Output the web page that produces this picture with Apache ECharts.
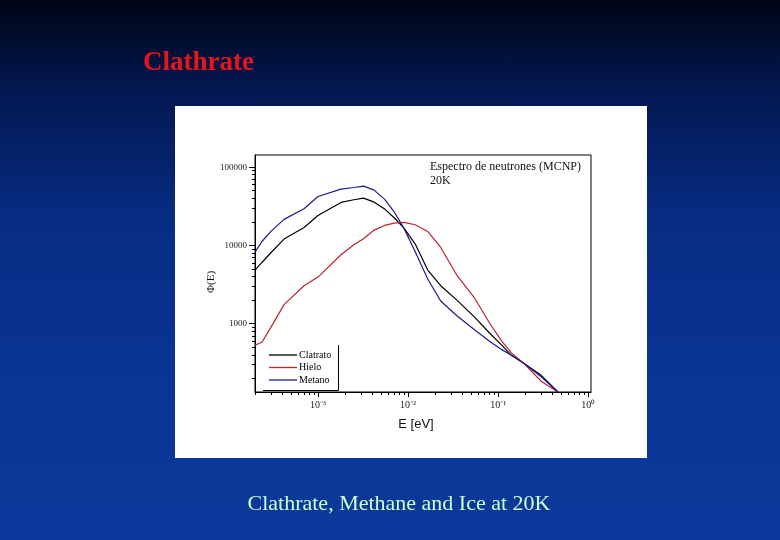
<!DOCTYPE html>
<html><head><meta charset="utf-8">
<script src="https://cdn.jsdelivr.net/npm/echarts@6/dist/echarts.min.js"></script>
<style>
html,body{margin:0;padding:0;}
body{width:780px;height:540px;overflow:hidden;position:relative;
background:linear-gradient(180deg,#000514 0%,#031750 16%,#072c82 40%,#0a3594 70%,#0b3a9c 100%);}
#panel{position:absolute;left:175px;top:106px;width:472px;height:352px;background:#fff;}
#chart{position:absolute;left:0;top:0;width:780px;height:540px;}
</style></head><body>
<div id="panel"></div><div id="chart"></div>
<script>
// Energy grid [eV] and neutron flux for each moderator
const energy   = [2e-4, 2.4e-4, 3e-4, 4.2e-4, 7e-4, 1e-3, 1.8e-3, 2.5e-3, 3.2e-3, 4.2e-3, 5.5e-3, 7e-3, 9e-3, 1.2e-2, 1.65e-2, 2.3e-2, 3.5e-2, 5.5e-2, 8e-2, 0.11, 0.14, 0.19, 0.3, 0.46];
const clatrato = [4840, 6100, 8060, 12050, 16980, 24150, 35400, 38300, 40200, 35700, 29100, 22550, 16640, 10400, 4840, 3055, 1985, 1205, 760, 529, 394, 315, 219, 134];
const hielo    = [529, 583, 897, 1750, 3055, 3940, 7600, 10200, 12170, 15700, 18000, 19270, 19670, 18370, 15100, 9420, 4100, 2100, 1020, 595, 423, 315, 184, 134];
const metano   = [8220, 11300, 15100, 21500, 29400, 42200, 52400, 55000, 57200, 50900, 38700, 26900, 16500, 8300, 3720, 1946, 1253, 830, 595, 466, 394, 315, 210, 134];
const seriesNames = ['Clatrato', 'Hielo', 'Metano'];
const seriesColors = ['#000000', '#b8262b', '#1c1c8a'];
const xTickValues = [1e-3, 1e-2, 1e-1, 1];
const xTickLabels = ['10\u207B\u00B3', '10\u207B\u00B2', '10\u207B\u00B9', '10\u2070'];
const yTickValues = [1000, 10000, 100000];
const yTickLabels = ['1000', '10000', '100000'];
const xMin = 2e-4, xMax = 1.07, yMin = 134, yMax = 143000;

function minorTicks(lo, hi) {
  const out = [];
  for (let d = Math.floor(Math.log10(lo)); d <= Math.ceil(Math.log10(hi)); d++) {
    for (let m = 2; m <= 9; m++) {
      const v = m * Math.pow(10, d);
      if (v >= lo && v <= hi) out.push(v);
    }
  }
  return out;
}
function lookup(values, labels, v) {
  for (let i = 0; i < values.length; i++) {
    if (Math.abs(Math.log10(v) - Math.log10(values[i])) < 1e-6) return labels[i];
  }
  return '';
}

const chart = echarts.init(document.getElementById('chart'), null, {renderer: 'canvas'});
const serif = 'Liberation Serif';
const lineSt = {color: '#000', width: 1};
const seriesData = [clatrato, hielo, metano];

chart.setOption({
  backgroundColor: 'transparent',
  animation: false,
  grid: {left: 255, right: 189, top: 155, bottom: 148, show: true, borderColor: '#000', borderWidth: 1, backgroundColor: 'transparent'},
  xAxis: [
    {type: 'log', logBase: 10, min: xMin, max: xMax,
     axisLine: {show: true, lineStyle: lineSt},
     axisTick: {show: true, customValues: xTickValues, length: 5, lineStyle: lineSt},
     axisLabel: {customValues: xTickValues, formatter: v => lookup(xTickValues, xTickLabels, v),
                 margin: 8, fontFamily: serif, fontSize: 10, color: '#222'},
     splitLine: {show: false},
     name: 'E [eV]', nameLocation: 'middle', nameGap: 26,
     nameTextStyle: {fontFamily: 'Liberation Sans', fontSize: 13, color: '#111', padding: [0, 14, 0, 0]}},
    {type: 'log', logBase: 10, min: xMin, max: xMax, position: 'bottom',
     axisLine: {show: false},
     axisTick: {show: true, customValues: minorTicks(xMin, xMax), length: 3, lineStyle: lineSt},
     axisLabel: {show: false}, splitLine: {show: false}}
  ],
  yAxis: [
    {type: 'log', logBase: 10, min: yMin, max: yMax,
     axisLine: {show: true, lineStyle: lineSt},
     axisTick: {show: true, customValues: yTickValues, length: 6, lineStyle: lineSt},
     axisLabel: {customValues: yTickValues, formatter: v => lookup(yTickValues, yTickLabels, v),
                 margin: 8, fontFamily: serif, fontSize: 9, color: '#222'},
     splitLine: {show: false}},
    {type: 'log', logBase: 10, min: yMin, max: yMax, position: 'left',
     axisLine: {show: false},
     axisTick: {show: true, customValues: minorTicks(yMin, yMax), length: 3, lineStyle: lineSt},
     axisLabel: {show: false}, splitLine: {show: false}}
  ],
  legend: {
    data: seriesNames.map(n => ({name: n, icon: 'rect'})),
    orient: 'vertical', left: 269, top: 349, padding: 0,
    itemWidth: 28, itemHeight: 1.3, itemGap: 0.5,
    textStyle: {fontFamily: serif, fontSize: 10, color: '#000', lineHeight: 12, padding: [0, 0, 0, -3]}
  },
  series: seriesNames.map((name, k) => ({
    name: name, type: 'line', xAxisIndex: 0, yAxisIndex: 0,
    showSymbol: false, symbol: 'none', clip: true, smooth: false,
    color: seriesColors[k],
    lineStyle: {color: seriesColors[k], width: 1.2},
    data: energy.map((e, i) => [e, seriesData[k][i]])
  })),
  graphic: [
    {type: 'text', left: 143, top: 50, style: {text: 'Clathrate', fill: '#e8141c', font: 'bold 27px "Liberation Serif"'}},
    {type: 'text', x: 399, y: 504, style: {text: 'Clathrate, Methane and Ice at 20K', fill: '#ccffcc', font: '22px "Liberation Serif"', align: 'center', verticalAlign: 'middle'}},
    {type: 'text', x: 430, y: 167, style: {text: 'Espectro de neutrones (MCNP)', fill: '#111', font: '12px "Liberation Serif"', verticalAlign: 'middle'}},
    {type: 'text', x: 430, y: 181, style: {text: '20K', fill: '#111', font: '12px "Liberation Serif"', verticalAlign: 'middle'}},
    {type: 'text', x: 211, y: 282, rotation: Math.PI / 2, style: {text: '\u03A6(E)', fill: '#111', font: '11px "Liberation Serif"', align: 'center', verticalAlign: 'middle'}},
    {type: 'polyline', shape: {points: [[338.5, 345], [338.5, 390.5], [263, 390.5]]}, style: {stroke: '#000', lineWidth: 1, fill: null}}
  ]
});
</script>
</body></html>
